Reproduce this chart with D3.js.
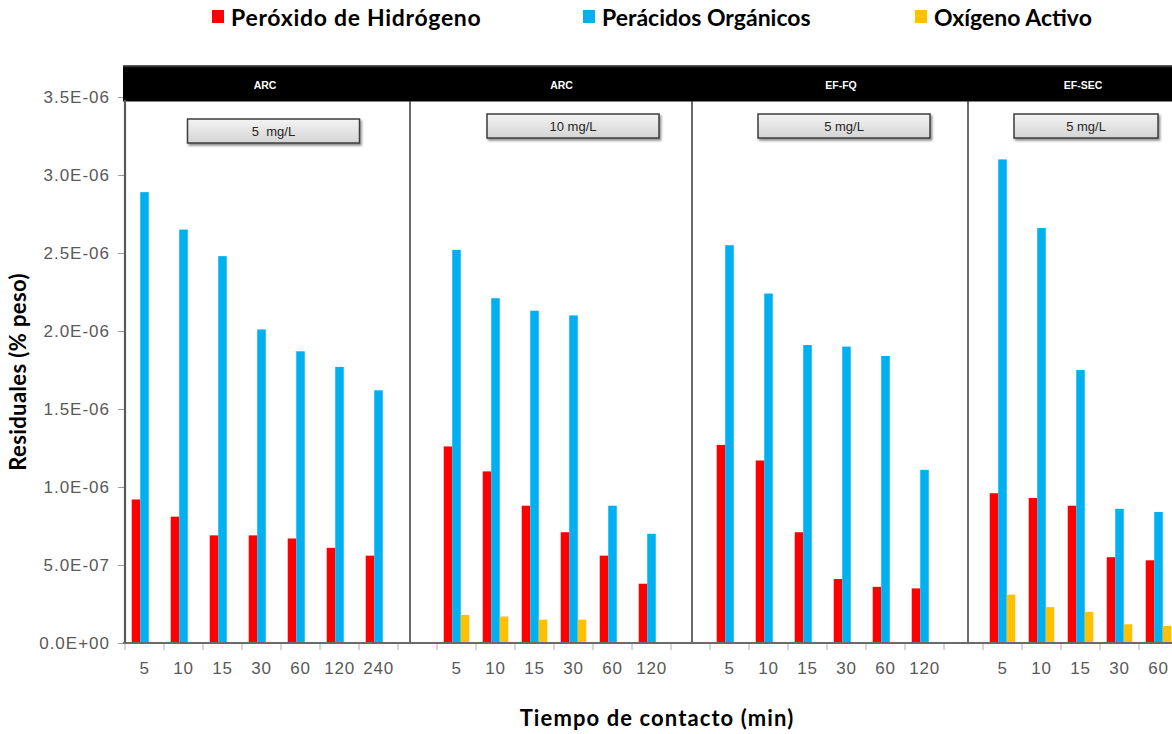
<!DOCTYPE html>
<html>
<head>
<meta charset="utf-8">
<script src="https://cdn.jsdelivr.net/npm/d3@7"></script>
<style>
  body { margin: 0; background: #fff; }
  svg { display: block; }
</style>
</head>
<body>
<svg width="1172" height="734"></svg>
<script>
// data
const panelNames = ["ARC", "ARC", "EF-FQ", "EF-SEC"];
const doses = ["5  mg/L", "10 mg/L", "5 mg/L", "5 mg/L"];
const times = [
  ["5", "10", "15", "30", "60", "120", "240"],
  ["5", "10", "15", "30", "60", "120"],
  ["5", "10", "15", "30", "60", "120"],
  ["5", "10", "15", "30", "60"]
];
const seriesNames = ["Peróxido de Hidrógeno", "Perácidos Orgánicos", "Oxígeno Activo"];
const peroxido = [
  [9.2e-7, 8.1e-7, 6.9e-7, 6.9e-7, 6.7e-7, 6.1e-7, 5.6e-7],
  [1.26e-6, 1.10e-6, 8.8e-7, 7.1e-7, 5.6e-7, 3.8e-7],
  [1.27e-6, 1.17e-6, 7.1e-7, 4.1e-7, 3.6e-7, 3.5e-7],
  [9.6e-7, 9.3e-7, 8.8e-7, 5.5e-7, 5.3e-7]
];
const peracidos = [
  [2.89e-6, 2.65e-6, 2.48e-6, 2.01e-6, 1.87e-6, 1.77e-6, 1.62e-6],
  [2.52e-6, 2.21e-6, 2.13e-6, 2.10e-6, 8.8e-7, 7.0e-7],
  [2.55e-6, 2.24e-6, 1.91e-6, 1.90e-6, 1.84e-6, 1.11e-6],
  [3.10e-6, 2.66e-6, 1.75e-6, 8.6e-7, 8.4e-7]
];
const oxigeno = [
  [0, 0, 0, 0, 0, 0, 0],
  [1.8e-7, 1.7e-7, 1.5e-7, 1.5e-7, 0, 0],
  [0, 0, 0, 0, 0, 0],
  [3.1e-7, 2.3e-7, 2.0e-7, 1.2e-7, 1.1e-7]
];
const yTicks = [0, 5e-7, 1e-6, 1.5e-6, 2e-6, 2.5e-6, 3e-6, 3.5e-6];

const colors = ["#ff0000", "#00b0f0", "#ffc000"];
const seriesValues = [peroxido, peracidos, oxigeno];

const svg = d3.select("svg");
const W = +svg.attr("width");
const baseY = 643, topY = 97, left = 125;

// one continuous category axis, with an empty slot after each panel
const slots = [];
times.forEach((ts, i) => {
  ts.forEach(t => slots.push(i + "|" + t));
  if (i < times.length - 1) slots.push(i + "|gap");
});

const x = d3.scaleBand().domain(slots).range([left, left + slots.length * 39]);
const y = d3.scaleLinear().domain([0, 3.5e-6]).range([baseY, topY]);

const groupW = x.bandwidth() * 0.655;
const x1 = d3.scaleBand().domain(seriesNames).range([0, groupW]);

// panel geometry (decoration only)
const sepOffset = [12, 21, 24];
const seps = sepOffset.map((o, i) => x(i + "|gap") + o);
const bounds = panelNames.map((n, i) => [i === 0 ? left : seps[i - 1], i === panelNames.length - 1 ? 1200 : seps[i]]);
const titleDx = [-2.5, 10.5, 11, -1];
const boxDx = [6, 22, 14, 2];
const boxW = [172, 172, 172, 144];
const boxY = [119, 114, 114, 114];

const defs = svg.append("defs");
const boxGrad = defs.append("linearGradient").attr("id", "boxGrad").attr("x1", 0).attr("y1", 0).attr("x2", 0).attr("y2", 1);
boxGrad.append("stop").attr("offset", "0%").attr("stop-color", "#f4f4f4");
boxGrad.append("stop").attr("offset", "100%").attr("stop-color", "#d4d4d4");
const headGrad = defs.append("linearGradient").attr("id", "headGrad").attr("x1", 0).attr("y1", 0).attr("x2", 0).attr("y2", 1);
headGrad.append("stop").attr("offset", "0%").attr("stop-color", "#6a6a6a");
headGrad.append("stop").attr("offset", "8%").attr("stop-color", "#000");
headGrad.append("stop").attr("offset", "100%").attr("stop-color", "#000");
const shadow = defs.append("filter").attr("id", "shadow").attr("x", "-10%").attr("y", "-30%").attr("width", "130%").attr("height", "190%");
shadow.append("feDropShadow").attr("dx", 1.5).attr("dy", 2).attr("stdDeviation", 1.2).attr("flood-color", "#000").attr("flood-opacity", 0.45);

// y ticks
const fmt = v => {
  const [m, e] = v.toExponential(1).split("e");
  const n = +e;
  return m + "E" + (n < 0 ? "-" : "+") + String(Math.abs(n)).padStart(2, "0");
};
const yAxis = svg.append("g")
  .attr("transform", `translate(${left},0)`)
  .call(d3.axisLeft(y).tickValues(yTicks).tickFormat(fmt).tickSize(7).tickSizeOuter(0).tickPadding(8));
yAxis.select(".domain").remove();
yAxis.selectAll(".tick line").attr("stroke", "#9a9a9a").attr("stroke-width", 1);
yAxis.selectAll(".tick text")
  .attr("fill", "#595959")
  .style("font-family", "'Liberation Sans', Arial, sans-serif")
  .style("font-size", "17px")
  .style("letter-spacing", "1px");

// header band
svg.append("rect")
  .attr("x", 123).attr("y", 65).attr("width", W - 123).attr("height", 36.5)
  .attr("fill", "url(#headGrad)");

panelNames.forEach((n, i) => {
  const cx = (bounds[i][0] + bounds[i][1]) / 2;
  svg.append("text")
    .attr("x", cx + titleDx[i]).attr("y", 89)
    .attr("text-anchor", "middle")
    .attr("fill", "#fff")
    .style("font-family", "'Liberation Sans', Arial, sans-serif")
    .style("font-weight", "bold")
    .style("font-size", "10.5px")
    .text(n);

  const bx = cx + boxDx[i] - boxW[i] / 2;
  svg.append("rect")
    .attr("x", bx).attr("y", boxY[i]).attr("width", boxW[i]).attr("height", 24)
    .attr("fill", "url(#boxGrad)")
    .attr("stroke", "#3c3c3c").attr("stroke-width", 1.5)
    .attr("filter", "url(#shadow)");
  svg.append("text")
    .attr("x", cx + boxDx[i]).attr("y", boxY[i] + 16.5)
    .attr("text-anchor", "middle")
    .attr("fill", "#262626")
    .style("font-family", "'Liberation Sans', Arial, sans-serif")
    .style("font-size", "13px")
    .style("white-space", "pre")
    .text(doses[i]);
});

// bars
const barData = [];
times.forEach((ts, p) => {
  ts.forEach((t, k) => {
    seriesNames.forEach((s, j) => {
      const v = seriesValues[j][p][k];
      if (v > 0) barData.push({ slot: p + "|" + t, series: s, value: v, color: colors[j] });
    });
  });
});

svg.append("g").selectAll("rect")
  .data(barData)
  .join("rect")
  .attr("x", d => x(d.slot) + (x.bandwidth() - groupW) / 2 + x1(d.series))
  .attr("y", d => y(d.value))
  .attr("width", x1.bandwidth())
  .attr("height", d => y(0) - y(d.value))
  .attr("fill", d => d.color);

// panel separators
svg.append("g").selectAll("line")
  .data(seps)
  .join("line")
  .attr("x1", d => d).attr("x2", d => d)
  .attr("y1", 101).attr("y2", baseY)
  .attr("stroke", "#3a3a3a").attr("stroke-width", 1.5);

// y axis line
svg.append("line")
  .attr("x1", left).attr("x2", left)
  .attr("y1", 100).attr("y2", baseY + 1)
  .attr("stroke", "#5a5a5a").attr("stroke-width", 2.2);

// x axis: boundary ticks, labels, baseline
const boundaries = slots.map(s => x(s)).concat([x.range()[1]]);
svg.append("g").selectAll("line")
  .data(boundaries)
  .join("line")
  .attr("x1", d => d).attr("x2", d => d)
  .attr("y1", baseY).attr("y2", baseY + 7)
  .attr("stroke", "#b0b0b0").attr("stroke-width", 1);

const xAxis = svg.append("g")
  .attr("transform", `translate(0,${baseY})`)
  .call(d3.axisBottom(x)
    .tickSize(0).tickPadding(19)
    .tickFormat(d => { const t = d.split("|")[1]; return t === "gap" ? "" : t; }));
xAxis.select(".domain").remove();
xAxis.selectAll(".tick text")
  .attr("fill", "#595959")
  .style("font-family", "'Liberation Sans', Arial, sans-serif")
  .style("font-size", "17px")
  .style("letter-spacing", "0.8px");

svg.append("line")
  .attr("x1", 123).attr("x2", W)
  .attr("y1", baseY).attr("y2", baseY)
  .attr("stroke", "#6a6a6a").attr("stroke-width", 2);

// axis titles
svg.append("text")
  .attr("transform", "translate(26,372) rotate(-90)")
  .attr("text-anchor", "middle")
  .style("font-family", "Lato, sans-serif")
  .style("font-weight", "bold")
  .style("font-size", "22px")
  .style("letter-spacing", "0.4px")
  .text("Residuales (% peso)");

svg.append("text")
  .attr("x", 657).attr("y", 726)
  .attr("text-anchor", "middle")
  .style("font-family", "Lato, sans-serif")
  .style("font-weight", "bold")
  .style("font-size", "22px")
  .style("letter-spacing", "1.1px")
  .text("Tiempo de contacto (min)");

// legend
const legendX = [212, 583, 915];
const legend = svg.append("g").selectAll("g")
  .data(seriesNames)
  .join("g")
  .attr("transform", (d, i) => `translate(${legendX[i]},0)`);
legend.append("rect")
  .attr("x", 0).attr("y", 10).attr("width", 12).attr("height", 13)
  .attr("fill", (d, i) => colors[i]);
legend.append("text")
  .attr("x", 19).attr("y", 26)
  .style("font-family", "Lato, sans-serif")
  .style("font-weight", "bold")
  .style("font-size", "23px")
  .style("letter-spacing", (d, i) => i === 0 ? "0.7px" : "0px")
  .text(d => d);
</script>
</body>
</html>
